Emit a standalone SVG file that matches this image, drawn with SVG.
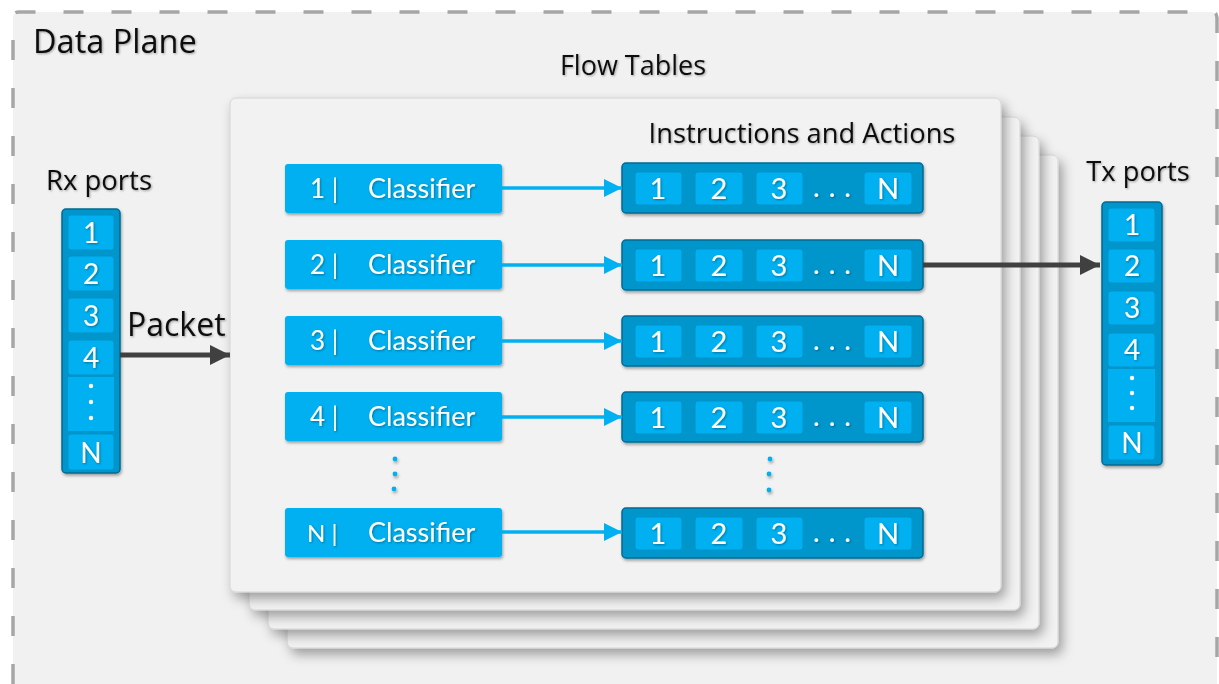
<svg xmlns="http://www.w3.org/2000/svg" width="1219" height="684" viewBox="0 0 1219 684">
  <defs>
    <filter id="cardShadow" x="-10%" y="-10%" width="125%" height="130%">
      <feDropShadow dx="4" dy="6" stdDeviation="6" flood-color="#000" flood-opacity="0.35"/>
    </filter>
    <filter id="boxShadow" x="-10%" y="-20%" width="125%" height="150%">
      <feDropShadow dx="1" dy="2" stdDeviation="1.5" flood-color="#000" flood-opacity="0.35"/>
    </filter>
    <filter id="textShadow" x="-5%" y="-20%" width="115%" height="150%">
      <feDropShadow dx="1" dy="1" stdDeviation="0.8" flood-color="#000" flood-opacity="0.35"/>
    </filter>
    <marker id="blueHead" viewBox="0 0 10 10" refX="10" refY="5" markerWidth="18" markerHeight="18" markerUnits="userSpaceOnUse" preserveAspectRatio="none" orient="auto">
      <path d="M0,0 L10,5 L0,10 Z" fill="#00b0f0"/>
    </marker>
    <marker id="darkHead" viewBox="0 0 10 10" refX="10" refY="5" markerWidth="20" markerHeight="20" markerUnits="userSpaceOnUse" preserveAspectRatio="none" orient="auto">
      <path d="M0,0 L10,5 L0,10 Z" fill="#404040"/>
    </marker>
  </defs>
  <style>
    .title { font-family: "Open Sans", Lato, sans-serif; fill: #111; }
    .white { font-family: Lato, "Open Sans", sans-serif; fill: #fff; }
    .card { fill: #f2f2f2; stroke: #d4d4d4; stroke-width: 1; }
    .classifier { fill: #00b0f0; }
    .rack { fill: #0096cc; stroke: #006b93; stroke-width: 1.5; }
    .cell { fill: #00b0f0; stroke: #0093cb; stroke-width: 1; }
    .blue-link { stroke: #00b0f0; stroke-width: 3.5; fill: none; }
    .dark-link { stroke: #404040; stroke-width: 5; fill: none; }
    .dot { fill: #00b0f0; }
  </style>

  <!-- page -->
  <rect x="0" y="0" width="1219" height="684" fill="#ffffff"/>
  <path d="M13,684 V18 Q13,12 19,12 H1211 Q1217,12 1217,18 V684" fill="#f1f1f1" stroke="#a6a6a6" stroke-width="3.5" stroke-dasharray="20 28"/>
  <text class="title" x="33" y="53" font-size="32.5" filter="url(#textShadow)">Data Plane</text>

  <!-- flow table stack -->
  <g id="flow-tables">
    <rect class="card" x="287" y="155" width="771" height="493" rx="6" filter="url(#cardShadow)"/>
    <rect class="card" x="268" y="136" width="771" height="493" rx="6" filter="url(#cardShadow)"/>
    <rect class="card" x="249" y="117" width="771" height="493" rx="6" filter="url(#cardShadow)"/>
    <rect class="card" x="230" y="98" width="771" height="494" rx="6" filter="url(#cardShadow)"/>
    <text class="title" x="633" y="75" font-size="27" text-anchor="middle" filter="url(#textShadow)">Flow Tables</text>
    <text class="title" x="802" y="143" font-size="27.3" text-anchor="middle" filter="url(#textShadow)">Instructions and Actions</text>
  </g>

  <!-- Rx ports -->
  <g id="rx-ports">
    <text class="title" x="99" y="190" font-size="27.5" text-anchor="middle" filter="url(#textShadow)">Rx ports</text>
    <rect class="rack" x="62" y="209" width="58" height="264" rx="4" filter="url(#boxShadow)"/>
    <rect class="cell" x="68" y="215" width="46" height="35" rx="3"/>
    <rect class="cell" x="68" y="256" width="46" height="35" rx="3"/>
    <rect class="cell" x="68" y="298" width="46" height="35" rx="3"/>
    <rect class="cell" x="68" y="340" width="46" height="35" rx="3"/>
    <rect x="68" y="377" width="46" height="54" fill="#00b0f0"/>
    <rect class="cell" x="68" y="434" width="46" height="36" rx="3"/>
    <g class="white" font-size="28" text-anchor="middle" filter="url(#textShadow)">
      <text x="91" y="243">1</text>
      <text x="91" y="284">2</text>
      <text x="91" y="326">3</text>
      <text x="91" y="368">4</text>
      <text x="91" y="463">N</text>
    </g>
    <circle cx="91" cy="386" r="2.2" fill="#fff"/>
    <circle cx="91" cy="402" r="2.2" fill="#fff"/>
    <circle cx="91" cy="418" r="2.2" fill="#fff"/>
  </g>

  <!-- Tx ports -->
  <g id="tx-ports">
    <text class="title" x="1138" y="181" font-size="27.3" text-anchor="middle" filter="url(#textShadow)">Tx ports</text>
    <rect class="rack" x="1102" y="202" width="60" height="263" rx="4" filter="url(#boxShadow)"/>
    <rect class="cell" x="1108" y="208" width="47" height="34" rx="3"/>
    <rect class="cell" x="1108" y="249" width="47" height="34" rx="3"/>
    <rect class="cell" x="1108" y="291" width="47" height="34" rx="3"/>
    <rect class="cell" x="1108" y="333" width="47" height="34" rx="3"/>
    <rect x="1108" y="369" width="47" height="53" fill="#00b0f0"/>
    <rect class="cell" x="1108" y="425" width="47" height="35" rx="3"/>
    <g class="white" font-size="28" text-anchor="middle" filter="url(#textShadow)">
      <text x="1132" y="235">1</text>
      <text x="1132" y="276">2</text>
      <text x="1132" y="318">3</text>
      <text x="1132" y="360">4</text>
      <text x="1132" y="453">N</text>
    </g>
    <circle cx="1132" cy="378" r="2.2" fill="#fff"/>
    <circle cx="1132" cy="393" r="2.2" fill="#fff"/>
    <circle cx="1132" cy="408" r="2.2" fill="#fff"/>
  </g>

  <!-- classifiers -->
  <g id="classifier-1">
    <rect class="classifier" x="285" y="164" width="217" height="49" rx="3" filter="url(#boxShadow)"/>
    <text class="white" x="310" y="198" font-size="26" filter="url(#textShadow)">1 |</text>
    <text class="white" x="368" y="198" font-size="27" filter="url(#textShadow)">Classifier</text>
  </g>
  <g id="classifier-2">
    <rect class="classifier" x="285" y="240" width="217" height="49" rx="3" filter="url(#boxShadow)"/>
    <text class="white" x="310" y="274" font-size="26" filter="url(#textShadow)">2 |</text>
    <text class="white" x="368" y="274" font-size="27" filter="url(#textShadow)">Classifier</text>
  </g>
  <g id="classifier-3">
    <rect class="classifier" x="285" y="316" width="217" height="49" rx="3" filter="url(#boxShadow)"/>
    <text class="white" x="310" y="350" font-size="26" filter="url(#textShadow)">3 |</text>
    <text class="white" x="368" y="350" font-size="27" filter="url(#textShadow)">Classifier</text>
  </g>
  <g id="classifier-4">
    <rect class="classifier" x="285" y="392" width="217" height="49" rx="3" filter="url(#boxShadow)"/>
    <text class="white" x="310" y="426" font-size="26" filter="url(#textShadow)">4 |</text>
    <text class="white" x="368" y="426" font-size="27" filter="url(#textShadow)">Classifier</text>
  </g>
  <g id="classifier-n">
    <rect class="classifier" x="285" y="508" width="217" height="49" rx="3" filter="url(#boxShadow)"/>
    <text class="white" x="307" y="542" font-size="24" filter="url(#textShadow)">N |</text>
    <text class="white" x="368" y="542" font-size="27" filter="url(#textShadow)">Classifier</text>
  </g>

  <!-- instruction/action lists -->
  <g id="actions-1">
    <rect class="rack" x="622" y="163" width="301" height="50" rx="4" filter="url(#boxShadow)"/>
    <rect class="cell" x="635" y="172" width="47" height="33" rx="3"/>
    <rect class="cell" x="695" y="172" width="48" height="33" rx="3"/>
    <rect class="cell" x="756" y="172" width="47" height="33" rx="3"/>
    <rect class="cell" x="864" y="172" width="48" height="33" rx="3"/>
    <g class="white" font-size="29" text-anchor="middle" filter="url(#textShadow)">
      <text x="658" y="199">1</text><text x="719" y="199">2</text><text x="779" y="199">3</text><text x="888" y="199">N</text>
      <text x="833" y="197" font-size="24" font-weight="bold" letter-spacing="2">. . .</text>
    </g>
  </g>
  <g id="actions-2">
    <rect class="rack" x="622" y="240" width="301" height="50" rx="4" filter="url(#boxShadow)"/>
    <rect class="cell" x="635" y="249" width="47" height="33" rx="3"/>
    <rect class="cell" x="695" y="249" width="48" height="33" rx="3"/>
    <rect class="cell" x="756" y="249" width="47" height="33" rx="3"/>
    <rect class="cell" x="864" y="249" width="48" height="33" rx="3"/>
    <g class="white" font-size="29" text-anchor="middle" filter="url(#textShadow)">
      <text x="658" y="276">1</text><text x="719" y="276">2</text><text x="779" y="276">3</text><text x="888" y="276">N</text>
      <text x="833" y="274" font-size="24" font-weight="bold" letter-spacing="2">. . .</text>
    </g>
  </g>
  <g id="actions-3">
    <rect class="rack" x="622" y="316" width="301" height="50" rx="4" filter="url(#boxShadow)"/>
    <rect class="cell" x="635" y="325" width="47" height="33" rx="3"/>
    <rect class="cell" x="695" y="325" width="48" height="33" rx="3"/>
    <rect class="cell" x="756" y="325" width="47" height="33" rx="3"/>
    <rect class="cell" x="864" y="325" width="48" height="33" rx="3"/>
    <g class="white" font-size="29" text-anchor="middle" filter="url(#textShadow)">
      <text x="658" y="352">1</text><text x="719" y="352">2</text><text x="779" y="352">3</text><text x="888" y="352">N</text>
      <text x="833" y="350" font-size="24" font-weight="bold" letter-spacing="2">. . .</text>
    </g>
  </g>
  <g id="actions-4">
    <rect class="rack" x="622" y="392" width="301" height="50" rx="4" filter="url(#boxShadow)"/>
    <rect class="cell" x="635" y="401" width="47" height="33" rx="3"/>
    <rect class="cell" x="695" y="401" width="48" height="33" rx="3"/>
    <rect class="cell" x="756" y="401" width="47" height="33" rx="3"/>
    <rect class="cell" x="864" y="401" width="48" height="33" rx="3"/>
    <g class="white" font-size="29" text-anchor="middle" filter="url(#textShadow)">
      <text x="658" y="428">1</text><text x="719" y="428">2</text><text x="779" y="428">3</text><text x="888" y="428">N</text>
      <text x="833" y="426" font-size="24" font-weight="bold" letter-spacing="2">. . .</text>
    </g>
  </g>
  <g id="actions-n">
    <rect class="rack" x="622" y="508" width="301" height="50" rx="4" filter="url(#boxShadow)"/>
    <rect class="cell" x="635" y="517" width="47" height="33" rx="3"/>
    <rect class="cell" x="695" y="517" width="48" height="33" rx="3"/>
    <rect class="cell" x="756" y="517" width="47" height="33" rx="3"/>
    <rect class="cell" x="864" y="517" width="48" height="33" rx="3"/>
    <g class="white" font-size="29" text-anchor="middle" filter="url(#textShadow)">
      <text x="658" y="544">1</text><text x="719" y="544">2</text><text x="779" y="544">3</text><text x="888" y="544">N</text>
      <text x="833" y="542" font-size="24" font-weight="bold" letter-spacing="2">. . .</text>
    </g>
  </g>

  <!-- vertical ellipses between row 4 and row N -->
  <g id="ellipsis" filter="url(#boxShadow)">
    <circle class="dot" cx="395" cy="459" r="2.4"/>
    <circle class="dot" cx="395" cy="474" r="2.4"/>
    <circle class="dot" cx="394" cy="489" r="2.4"/>
    <circle class="dot" cx="770" cy="459" r="2.4"/>
    <circle class="dot" cx="769" cy="474" r="2.4"/>
    <circle class="dot" cx="769" cy="490" r="2.4"/>
  </g>

  <!-- connectors -->
  <g id="connectors">
    <line class="blue-link" x1="502" y1="188" x2="622" y2="188" marker-end="url(#blueHead)"/>
    <line class="blue-link" x1="502" y1="265" x2="622" y2="265" marker-end="url(#blueHead)"/>
    <line class="blue-link" x1="502" y1="341" x2="622" y2="341" marker-end="url(#blueHead)"/>
    <line class="blue-link" x1="502" y1="417" x2="622" y2="417" marker-end="url(#blueHead)"/>
    <line class="blue-link" x1="502" y1="532" x2="622" y2="532" marker-end="url(#blueHead)"/>
    <line class="dark-link" x1="923" y1="265" x2="1100" y2="265" marker-end="url(#darkHead)"/>
    <line class="dark-link" x1="120" y1="355" x2="230" y2="355" marker-end="url(#darkHead)"/>
    <text class="title" x="127" y="336" font-size="32" filter="url(#textShadow)">Packet</text>
  </g>
</svg>
